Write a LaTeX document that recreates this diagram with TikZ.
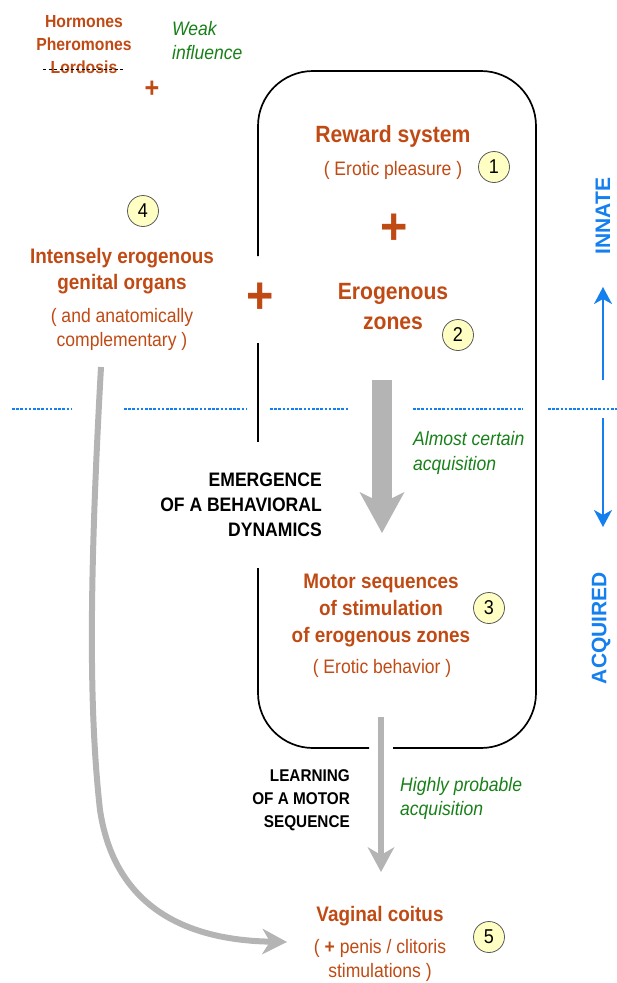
\documentclass[tikz,border=0pt]{standalone}
\usepackage{fontspec}
\setmainfont{Liberation Sans}[FakeStretch=0.9]
\newfontfamily\rotfont{Liberation Sans}
\usetikzlibrary{arrows.meta}
\definecolor{brn}{RGB}{192,74,20}
\definecolor{grn}{RGB}{24,128,24}
\definecolor{blu}{RGB}{20,128,240}
\definecolor{gry}{RGB}{180,180,180}
\definecolor{ylw}{RGB}{255,255,196}
\newcommand\myfs[2]{\fontsize{#1}{#2}\selectfont}
\tikzset{
  lbl/.style={inner sep=0pt, align=center},
  brtitle/.style={lbl, text=brn},
  grnote/.style={lbl, text=grn, align=left, anchor=west},
  blklbl/.style={lbl, text=black, align=right, anchor=east},
  num/.style={circle, draw=black!65, line width=0.8pt, fill=ylw, minimum size=31pt, inner sep=0pt, font=\myfs{20}{20}},
  plusbig/.style={lbl, text=brn, font=\bfseries\myfs{52}{52}},
  boxline/.style={line width=1.7pt, rounded corners=55pt},
  sep/.style={blu, line width=2.6pt, dash pattern=on 2.6pt off 1.6pt},
  bluarrow/.style={blu, line width=2pt, -{Stealth[length=17pt,width=18pt,inset=5pt]}},
  rotlbl/.style={lbl, text=blu, rotate=90, font=\rotfont\bfseries\myfs{21}{21}},
}
\begin{document}
\begin{tikzpicture}[x=1pt,y=-1pt]
\useasboundingbox (0,0) rectangle (617,983);

% ---- box ----
\draw[boxline] (258,256) -- (258,71) -- (536,71) -- (536,748) -- (393,748);
\draw[boxline] (369,748) -- (258,748) -- (258,568);
\draw[line width=1.7pt] (258,343) -- (258,442);

% ---- blue separator ----
\draw[sep] (12,409) -- (72,409);
\draw[sep] (124,409) -- (246,409);
\draw[sep] (270,409) -- (348,409);
\draw[sep] (413,409) -- (523,409);
\draw[sep] (548,409) -- (617,409);

% ---- top left ----
\node[brtitle, font=\bfseries\myfs{17.5}{23}] (horm) at (84,45) {Hormones\\Pheromones\\Lordosis};
\draw[black, line width=0.9pt, dash pattern=on 3pt off 2.5pt] (43,69) -- (123,69);
\node[grnote, font=\itshape\myfs{19.5}{24}] (weak) at (172,41) {Weak\\influence};
\node[lbl, text=brn, font=\bfseries\myfs{28}{28}] (plussmall) at (152,89) {+};

% ---- inside box ----
\node[brtitle, font=\bfseries\myfs{23.5}{28}] (reward) at (393,136) {Reward system};
\node[brtitle, font=\myfs{19.5}{24}] (pleasure) at (393,170) {( Erotic pleasure )};
\node[num] (c1) at (494,167) {1};
\node[plusbig] (plusmid) at (394,229) {+};
\node[brtitle, font=\bfseries\myfs{23.5}{30}] (zones) at (393,307) {Erogenous\\zones};
\node[num] (c2) at (458,335) {2};

% ---- left block ----
\node[num] (c4) at (143,211) {4};
\node[brtitle, font=\bfseries\myfs{21}{26}] (genital) at (122,271) {Intensely erogenous\\genital organs};
\node[brtitle, font=\myfs{19.5}{24}] (anat) at (122,329) {( and anatomically\\complementary )};
\node[plusbig] (plusleft) at (260,298) {+};

% ---- middle ----
\node[grnote, font=\itshape\myfs{19.5}{25}] (almost) at (413,453) {Almost certain\\acquisition};
\node[blklbl, font=\bfseries\myfs{19.5}{25}] (emerg) at (322,505) {EMERGENCE\\OF A BEHAVIORAL\\DYNAMICS};
\node[brtitle, font=\bfseries\myfs{21}{27}] (motor) at (381,610) {Motor sequences\\of stimulation\\of erogenous zones};
\node[brtitle, font=\myfs{19.5}{24}] (behav) at (382,668) {( Erotic behavior )};
\node[num] (c3) at (489,608) {3};

% ---- bottom ----
\node[blklbl, font=\bfseries\myfs{17}{23}] (learn) at (350,800) {LEARNING\\OF A MOTOR\\SEQUENCE};
\node[grnote, font=\itshape\myfs{19.5}{24}] (highly) at (400,798) {Highly probable\\acquisition};
\node[brtitle, font=\bfseries\myfs{21}{26}] (coitus) at (380,916) {Vaginal coitus};
\node[brtitle, font=\myfs{19.5}{24}] (penis) at (380,960) {( \textbf{+} penis / clitoris\\stimulations )};
\node[num] (c5) at (489,937) {5};

% ---- right side ----
\node[rotlbl] (innate) at (603,216) {INNATE};
\node[rotlbl] (acq) at (601,628) {ACQUIRED};
\coordinate (upS) at (603,380);
\coordinate (upE) at (603,287);
\coordinate (dnS) at (603,418);
\coordinate (dnE) at (603,527);
\draw[bluarrow] (upS) -- (upE);
\draw[bluarrow] (dnS) -- (dnE);

% ---- grey connectors ----
\coordinate (a1s) at (382,380);
\coordinate (a1e) at (382,533);
\draw[gry, line width=20pt, line cap=butt, -{Stealth[length=41pt,width=45pt,inset=11pt,line width=0pt]}] (a1s) -- (a1e);
\coordinate (a2s) at (381,717);
\coordinate (a2e) at (381,872);
\draw[gry, line width=6pt, line cap=butt, -{Stealth[length=25pt,width=27pt,inset=8pt,line width=0pt]}] (a2s) -- (a2e);
\coordinate (a3s) at (101,367);
\coordinate (a3e) at (287,942);
\draw[gry, line width=6pt, line cap=butt, -{Stealth[length=25pt,width=26pt,inset=8pt,line width=0pt]}]
  (a3s) .. controls (88,600) and (90,720) .. (100,810) .. controls (115,910) and (190,940) .. (a3e);
\end{tikzpicture}
\end{document}
